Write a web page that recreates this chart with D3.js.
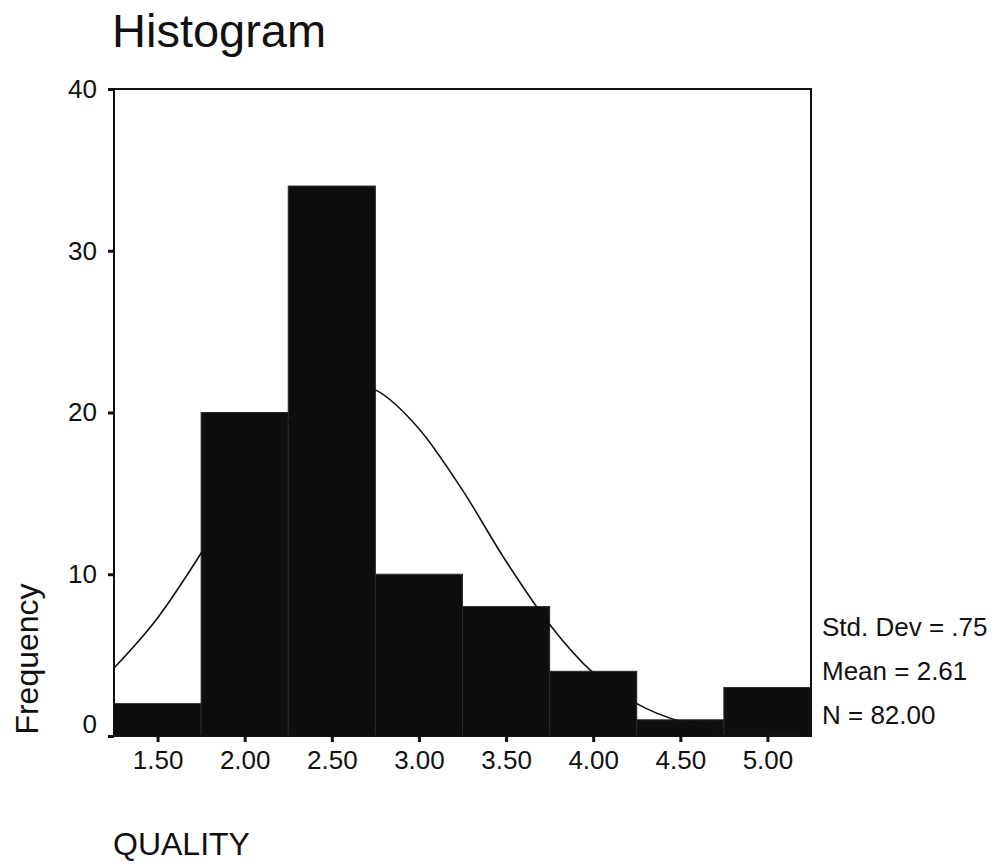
<!DOCTYPE html>
<html>
<head>
<meta charset="utf-8">
<script src="https://cdn.jsdelivr.net/npm/d3@7"></script>
<style>
	body { margin: 0; background: #fff; }
	svg text { font-family: Arial, "Liberation Sans", sans-serif; fill: #111; }
</style>
</head>
<body>
<div id="chart"></div>
<script>
// bins of QUALITY (lower edge, upper edge) and their counts
const binStarts = [1.25, 1.75, 2.25, 2.75, 3.25, 3.75, 4.25, 4.75];
const binEnds   = [1.75, 2.25, 2.75, 3.25, 3.75, 4.25, 4.75, 5.25];
const counts    = [2, 20, 34, 10, 8, 4, 1, 3];

// fitted normal curve
const curveX = [1.25, 1.5, 1.75, 2.0, 2.25, 2.5, 2.61, 2.75, 3.0, 3.25, 3.5, 3.75, 4.0, 4.25, 4.5, 4.75, 5.0, 5.25];
const curveY = [4.2, 7.3, 11.3, 15.7, 19.4, 21.6, 21.8, 21.4, 19.0, 15.2, 10.8, 6.9, 3.9, 2.0, 0.9, 0.4, 0.15, 0.05];

const xTicks = [1.5, 2.0, 2.5, 3.0, 3.5, 4.0, 4.5, 5.0];
const yTicks = [0, 10, 20, 30, 40];
const stats  = ["Std. Dev = .75", "Mean = 2.61", "N = 82.00"];

const width = 994, height = 865;
const plotLeft = 114, plotRight = 811, plotTop = 89, plotBottom = 736;

const svg = d3.select("#chart").append("svg")
	.attr("width", width)
	.attr("height", height);

const x = d3.scaleLinear().domain([1.25, 5.25]).range([plotLeft, plotRight]);
const y = d3.scaleLinear().domain([0, 40]).range([plotBottom, plotTop]);

// bars
svg.append("g").selectAll("rect")
	.data(counts)
	.enter().append("rect")
	.attr("x", (d, i) => x(binStarts[i]))
	.attr("y", d => y(d))
	.attr("width", (d, i) => x(binEnds[i]) - x(binStarts[i]))
	.attr("height", d => plotBottom - y(d))
	.attr("fill", "#0e0e0e")
	.attr("stroke", "#2a2a2a")
	.attr("stroke-width", 1);

// normal curve
const line = d3.line()
	.x(d => x(d[0]))
	.y(d => y(d[1]))
	.curve(d3.curveMonotoneX);

svg.append("path")
	.datum(curveX.map((v, i) => [v, curveY[i]]))
	.attr("d", line)
	.attr("fill", "none")
	.attr("stroke", "#111")
	.attr("stroke-width", 1.6);

// frame
svg.append("rect")
	.attr("x", plotLeft).attr("y", plotTop)
	.attr("width", plotRight - plotLeft).attr("height", plotBottom - plotTop)
	.attr("fill", "none")
	.attr("stroke", "#111")
	.attr("stroke-width", 2);

// y axis
const yAxis = svg.append("g")
	.attr("transform", `translate(${plotLeft},0)`)
	.call(d3.axisLeft(y).tickValues(yTicks).tickSize(6).tickPadding(11).tickFormat(d3.format("d")));
yAxis.select(".domain").remove();
yAxis.selectAll(".tick line").attr("stroke", "#111").attr("stroke-width", 3);
yAxis.selectAll(".tick text")
	.style("font-size", "26px")
	.attr("dy", d => d === 0 ? "-0.15em" : "0.32em");

// x axis
const xAxis = svg.append("g")
	.attr("transform", `translate(0,${plotBottom})`)
	.call(d3.axisBottom(x).tickValues(xTicks).tickSize(6).tickPadding(9).tickFormat(d3.format(".2f")));
xAxis.select(".domain").remove();
xAxis.selectAll(".tick line").attr("stroke", "#111").attr("stroke-width", 3);
xAxis.selectAll(".tick text").style("font-size", "26px");

// titles
svg.append("text")
	.attr("x", 112).attr("y", 47)
	.style("font-size", "47px")
	.text("Histogram");

svg.append("text")
	.attr("transform", "translate(38,659) rotate(-90)")
	.attr("text-anchor", "middle")
	.style("font-size", "32px")
	.text("Frequency");

svg.append("text")
	.attr("x", 113).attr("y", 855)
	.style("font-size", "32px")
	.text("QUALITY");

// stats beside the plot
svg.append("g").selectAll("text")
	.data(stats)
	.enter().append("text")
	.attr("x", 822)
	.attr("y", (d, i) => 636 + i * 44)
	.style("font-size", "26px")
	.text(d => d);
</script>
</body>
</html>
